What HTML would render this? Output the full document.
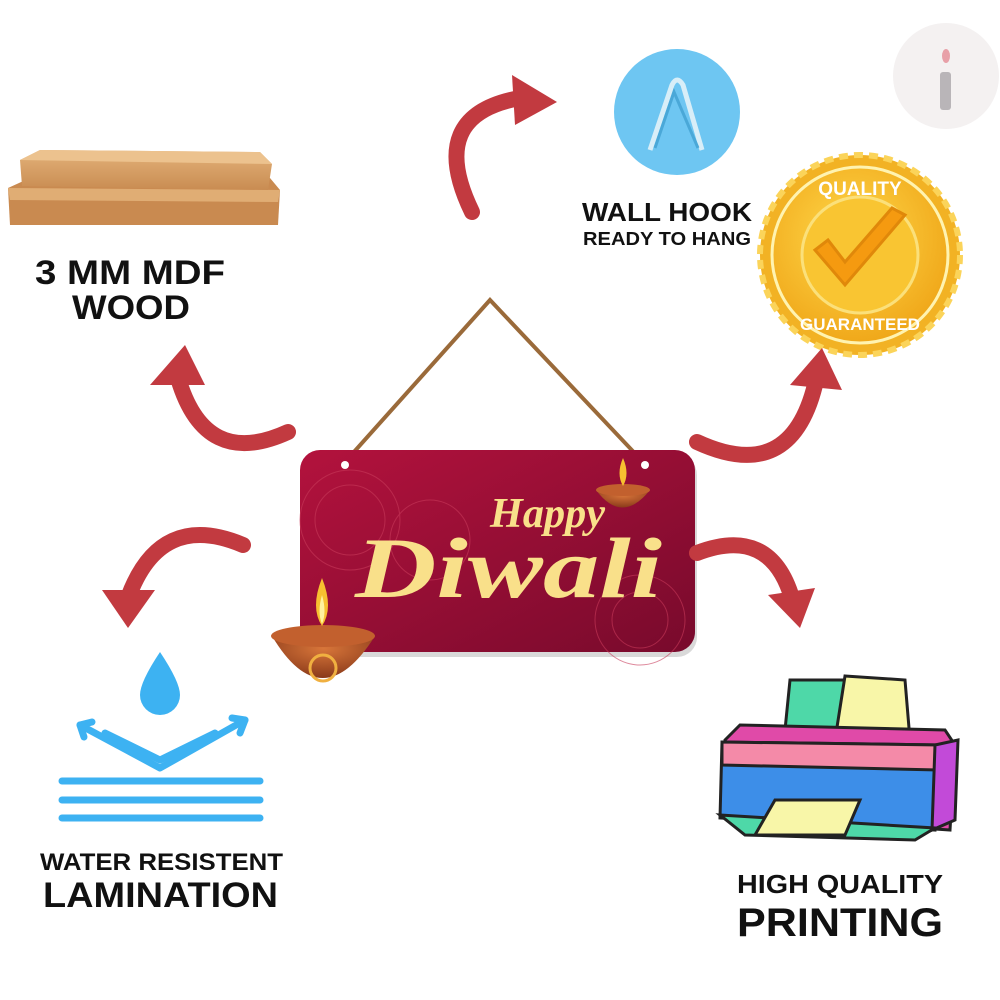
<!DOCTYPE html>
<html><head><meta charset="utf-8">
<style>
html,body{margin:0;padding:0;background:#fff;}
svg{display:block;}
.t{font-family:"Liberation Sans",sans-serif;font-weight:bold;fill:#111;}
</style></head><body>
<svg width="1000" height="1000" viewBox="0 0 1000 1000" xmlns="http://www.w3.org/2000/svg">
<defs>
<linearGradient id="sg" x1="0" y1="0" x2="1" y2="1">
<stop offset="0" stop-color="#b3123d"/><stop offset="1" stop-color="#780a2c"/></linearGradient>
<radialGradient id="gold" cx="0.45" cy="0.4" r="0.6">
<stop offset="0" stop-color="#ffd84a"/><stop offset="1" stop-color="#f0a81a"/></radialGradient>
<linearGradient id="wood" x1="0" y1="0" x2="0" y2="1">
<stop offset="0" stop-color="#e3b27a"/><stop offset="1" stop-color="#c98c52"/></linearGradient>
<radialGradient id="bowl" cx="0.5" cy="0.3" r="0.7">
<stop offset="0" stop-color="#d8763a"/><stop offset="1" stop-color="#8a3a1a"/></radialGradient>
</defs>

<!-- logo -->
<circle cx="946" cy="76" r="53" fill="#f4f1f1"/>
<rect x="940" y="72" width="11" height="38" rx="3" fill="#b9b5b8"/>
<ellipse cx="946" cy="56" rx="4" ry="7" fill="#e8a0a8"/>

<!-- wood planks -->
<polygon points="8,188 30,178 270,178 280,190 278,225 10,225" fill="#c98a50"/>
<polygon points="8,188 280,190 278,202 10,200" fill="#e0ad74"/>
<polygon points="20,160 40,150 260,152 272,164 268,190 22,186" fill="url(#wood)"/>
<polygon points="20,160 40,150 260,152 272,164" fill="#ecc28e"/>
<text class="t" x="35" y="284" font-size="34" textLength="190" lengthAdjust="spacingAndGlyphs">3 MM MDF</text>
<text class="t" x="72" y="319" font-size="34" textLength="118" lengthAdjust="spacingAndGlyphs">WOOD</text>

<!-- wall hook -->
<circle cx="677" cy="112" r="63" fill="#6ec6f2"/>
<path d="M650,150 L672,85 Q677,75 683,85 L702,150" fill="none" stroke="#d8eef8" stroke-width="5"/>
<path d="M655,148 L674,92 L698,148" fill="none" stroke="#4aa8d8" stroke-width="3"/>
<text class="t" x="582" y="221" font-size="26" textLength="170" lengthAdjust="spacingAndGlyphs">WALL HOOK</text>
<text class="t" x="583" y="245" font-size="18" textLength="168" lengthAdjust="spacingAndGlyphs">READY TO HANG</text>

<!-- quality seal -->
<circle cx="860" cy="255" r="100" fill="#f2b224" stroke="#fbd45a" stroke-width="6" stroke-dasharray="9 6"/>
<circle cx="860" cy="255" r="88" fill="url(#gold)" stroke="#fff3b0" stroke-width="3"/>
<circle cx="860" cy="255" r="58" fill="#f9c532" stroke="#fbe07a" stroke-width="3"/>
<path d="M815,250 L845,285 L905,215 L892,208 L845,262 L828,240 Z" fill="#f59a10" stroke="#e0880a" stroke-width="3"/>
<text x="860" y="195" font-family="Liberation Sans,sans-serif" font-weight="bold" font-size="19" fill="#fff" text-anchor="middle">QUALITY</text>
<text x="860" y="330" font-family="Liberation Sans,sans-serif" font-weight="bold" font-size="17" fill="#fff" text-anchor="middle">GUARANTEED</text>

<!-- rope -->
<path d="M345,462 L490,300 L645,464" fill="none" stroke="#9a6a3a" stroke-width="4"/>
<!-- sign -->
<rect x="305" y="455" width="392" height="202" rx="20" fill="#000" opacity="0.15"/>
<rect x="300" y="450" width="395" height="202" rx="20" fill="url(#sg)"/>
<circle cx="345" cy="465" r="4" fill="#fff"/><circle cx="645" cy="465" r="4" fill="#fff"/>
<g fill="none" stroke="#c83a5a" stroke-width="1" opacity="0.6">
<circle cx="350" cy="520" r="50"/><circle cx="350" cy="520" r="35"/><circle cx="430" cy="540" r="40"/>
<circle cx="640" cy="620" r="45"/><circle cx="640" cy="620" r="28"/></g>
<text x="490" y="527" font-family="Liberation Serif,serif" font-style="italic" font-weight="bold" font-size="42" fill="#f9e08a" textLength="115" lengthAdjust="spacingAndGlyphs">Happy</text>
<text x="355" y="597" font-family="Liberation Serif,serif" font-style="italic" font-weight="bold" font-size="86" fill="#f9e08a" textLength="307" lengthAdjust="spacingAndGlyphs">Diwali</text>

<!-- diyas -->
<path d="M272,636 Q322,720 375,636 Z" fill="url(#bowl)"/>
<ellipse cx="323" cy="636" rx="52" ry="11" fill="#c2602e"/>
<circle cx="323" cy="668" r="13" fill="none" stroke="#f0b040" stroke-width="3"/>
<path d="M322,578 Q310,608 322,626 Q334,608 322,578Z" fill="#f7c030"/>
<path d="M322,595 Q317,612 322,624 Q327,612 322,595Z" fill="#fff3a0"/>
<path d="M596,490 Q622,525 650,490 Z" fill="url(#bowl)"/>
<ellipse cx="623" cy="490" rx="27" ry="6" fill="#c2602e"/>
<path d="M623,458 Q616,474 623,486 Q630,474 623,458Z" fill="#f7c030"/>

<!-- arrows -->
<g fill="none" stroke="#c23a40" stroke-width="16" stroke-linecap="round">
<path d="M472,212 Q425,115 520,98"/>
<path d="M288,432 Q205,470 178,378"/>
<path d="M243,545 Q160,510 128,598"/>
<path d="M697,442 Q790,485 815,385"/>
<path d="M697,553 Q770,525 792,598"/>
</g>
<g fill="#c23a40">
<polygon points="512,75 557,102 515,125"/>
<polygon points="150,385 185,345 205,385"/>
<polygon points="102,590 128,628 155,590"/>
<polygon points="790,385 822,348 842,390"/>
<polygon points="768,595 800,628 815,588"/>
</g>

<!-- water icon -->
<g fill="none" stroke="#3db2f2" stroke-width="7" stroke-linecap="round" stroke-linejoin="round">
<path d="M80,725 L160,768 L245,720"/>
<path d="M80,725 L92,722 M80,725 L84,737"/>
<path d="M245,720 L232,718 M245,720 L240,733"/>
<path d="M105,733 L160,760 L215,733"/>
<path d="M62,781 L260,781"/><path d="M62,800 L260,800"/><path d="M62,818 L260,818"/>
</g>
<path d="M160,652 Q140,682 140,695 A20,20 0 0 0 180,695 Q180,682 160,652Z" fill="#3db2f2"/>
<text class="t" x="40" y="870" font-size="24" textLength="243" lengthAdjust="spacingAndGlyphs">WATER RESISTENT</text>
<text class="t" x="43" y="907" font-size="35" textLength="235" lengthAdjust="spacingAndGlyphs">LAMINATION</text>

<!-- printer -->
<polygon points="790,680 900,680 905,730 785,730" fill="#4ed8a8" stroke="#222" stroke-width="3"/>
<polygon points="845,676 905,680 910,740 835,740" fill="#f8f6a8" stroke="#222" stroke-width="3"/>
<polygon points="725,740 740,725 945,730 955,745 950,830 725,815" fill="#e04aa8" stroke="#222" stroke-width="3"/>
<polygon points="722,742 940,745 935,830 720,818" fill="#3d8ee8" stroke="#222" stroke-width="3"/>
<polygon points="722,742 940,745 938,770 722,765" fill="#f48aa8" stroke="#222" stroke-width="3"/>
<polygon points="935,745 958,740 955,820 932,830" fill="#c24ad8" stroke="#222" stroke-width="3"/>
<polygon points="720,815 935,828 915,840 745,835" fill="#4ed8a8" stroke="#222" stroke-width="3"/>
<polygon points="775,800 860,800 845,835 755,835" fill="#f8f6a8" stroke="#222" stroke-width="3"/>
<text class="t" x="737" y="893" font-size="26" textLength="206" lengthAdjust="spacingAndGlyphs">HIGH QUALITY</text>
<text class="t" x="737" y="936" font-size="40" textLength="206" lengthAdjust="spacingAndGlyphs">PRINTING</text>
</svg>
</body></html>
